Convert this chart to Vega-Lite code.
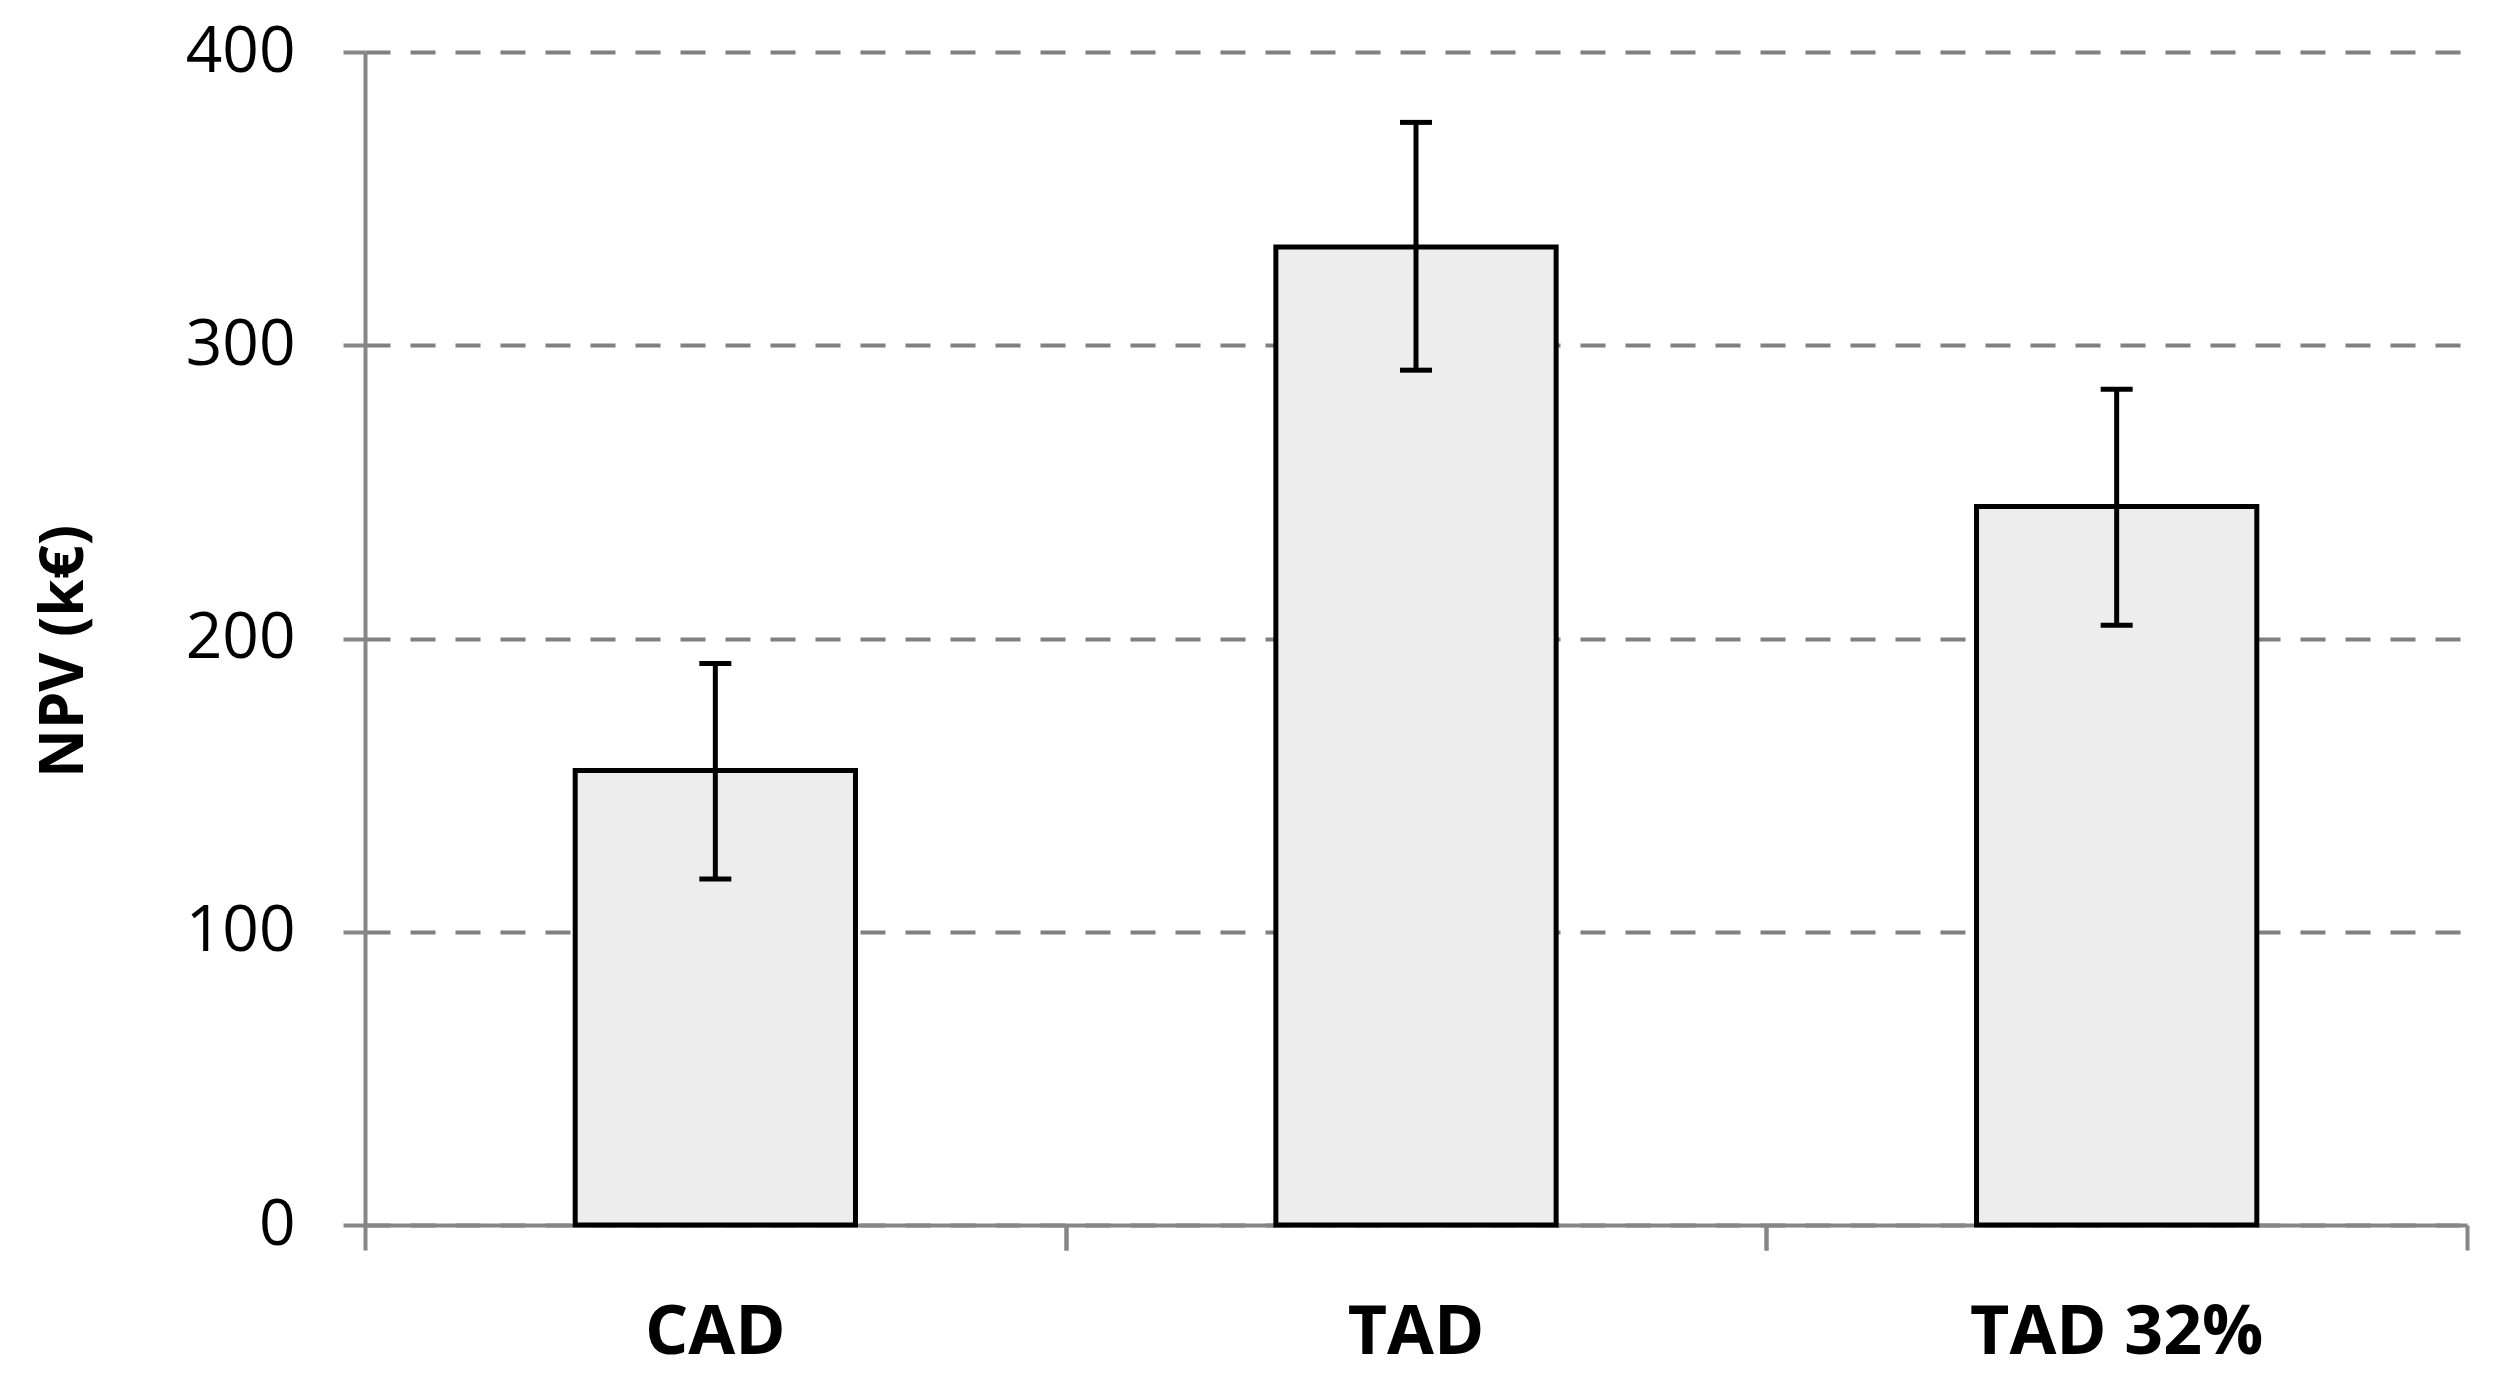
{
  "$schema": "https://vega.github.io/schema/vega-lite/v6.json",
  "width": 2102,
  "height": 1173,
  "autosize": {"type": "none"},
  "padding": {"left": 365, "top": 52, "right": 43, "bottom": 161},
  "background": "white",
  "config": {"view": {"stroke": null}},
  "data": {
    "values": [
      {"case": "CAD", "npv": 155, "low": 118, "high": 191.5},
      {"case": "TAD", "npv": 333.5, "low": 291.5, "high": 376},
      {"case": "TAD 32%", "npv": 245, "low": 204.5, "high": 285}
    ]
  },
  "resolve": {"axis": {"x": "independent"}},
  "layer": [
    {
      "mark": {"type": "bar", "fill": "#ededed", "stroke": "#000000", "strokeWidth": 5, "strokeJoin": "miter"},
      "encoding": {
        "x": {
          "field": "case",
          "type": "nominal",
          "sort": null,
          "scale": {"paddingInner": 0.6, "paddingOuter": 0.3},
          "axis": {
            "orient": "bottom",
            "title": null,
            "labelAngle": 0,
            "labelFont": "Open Sans",
            "labelFontSize": 68,
            "labelFontWeight": "bold",
            "labelColor": "#000000",
            "labelBaseline": "alphabetic",
            "labelPadding": 128,
            "labelLimit": 0,
            "ticks": false,
            "domainColor": "#868686",
            "domainWidth": 4,
            "grid": false
          }
        },
        "y": {
          "field": "npv",
          "type": "quantitative",
          "scale": {"domain": [0, 400], "nice": false},
          "axis": {
            "title": "NPV (k€)",
            "titleFont": "Open Sans",
            "titleFontSize": 60,
            "titleFontWeight": "bold",
            "titleColor": "#000000",
            "titleAngle": -90,
            "titleAlign": "center",
            "titleBaseline": "alphabetic",
            "titleX": -283,
            "titleY": 599,
            "values": [0, 100, 200, 300, 400],
            "labelFont": "Open Sans",
            "labelFontSize": 64,
            "labelColor": "#000000",
            "labelPadding": 48,
            "tickSize": 22,
            "tickColor": "#868686",
            "tickWidth": 4,
            "domainColor": "#868686",
            "domainWidth": 4,
            "grid": true,
            "gridColor": "#808080",
            "gridWidth": 4,
            "gridDash": [25, 20]
          }
        }
      }
    },
    {
      "mark": {"type": "rule", "stroke": "#000000", "strokeWidth": 5},
      "encoding": {
        "x": {
          "field": "case",
          "type": "nominal",
          "sort": null,
          "axis": {
            "orient": "bottom",
            "title": null,
            "labels": false,
            "domain": false,
            "grid": false,
            "tickOffset": -350.3,
            "tickSize": 25,
            "tickColor": "#868686",
            "tickWidth": 4
          }
        },
        "y": {"field": "low", "type": "quantitative"},
        "y2": {"field": "high"}
      }
    },
    {
      "mark": {"type": "tick", "color": "#000000", "size": 32, "thickness": 5, "opacity": 1},
      "encoding": {
        "x": {"field": "case", "type": "nominal", "sort": null, "axis": null},
        "y": {"field": "low", "type": "quantitative"}
      }
    },
    {
      "mark": {"type": "tick", "color": "#000000", "size": 32, "thickness": 5, "opacity": 1},
      "encoding": {
        "x": {
          "field": "case",
          "type": "nominal",
          "sort": null,
          "axis": {
            "orient": "bottom",
            "title": null,
            "labels": false,
            "domain": false,
            "grid": false,
            "tickOffset": 350.3,
            "tickSize": 25,
            "tickColor": "#868686",
            "tickWidth": 4
          }
        },
        "y": {"field": "high", "type": "quantitative"}
      }
    }
  ]
}
